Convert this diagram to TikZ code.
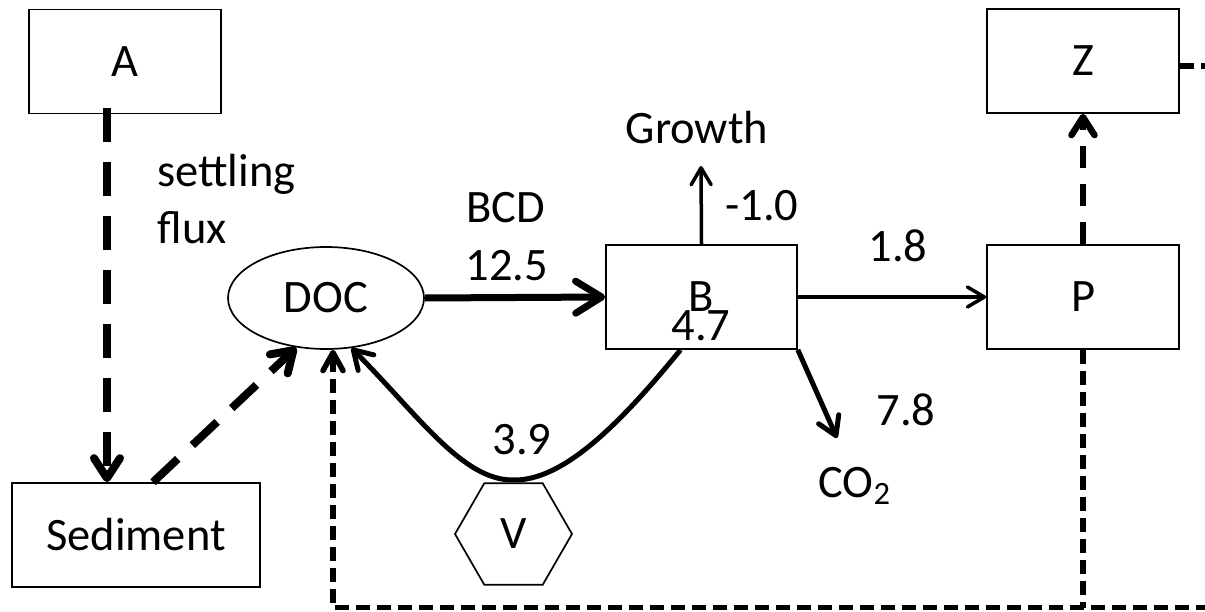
\documentclass[tikz,border=0pt]{standalone}
\usepackage{fontspec}
\setmainfont{Carlito}
\usetikzlibrary{arrows.meta,shapes.geometric}
\newcommand\dfont{\fontsize{23.25}{28}\selectfont}
\begin{document}
\begin{tikzpicture}[x=0.5pt,y=-0.5pt,
  box/.style={draw, line width=0.85pt, minimum width=96pt, minimum height=52pt, inner sep=0pt, font=\dfont},
  lab/.style={font=\dfont, inner sep=0pt},
  thickdash/.style={line width=4pt, dash pattern=on 17pt off 10pt, -{Straight Barb[round, length=10pt, width=13pt]}},
  middash/.style={line width=3.25pt, dash pattern=on 11pt off 8pt, -{Straight Barb[round, length=9pt, width=11.5pt]}},
  loopdash/.style={line width=2.75pt, dash pattern=on 7pt off 3.5pt},
  bcdarrow/.style={line width=3.5pt, -{Straight Barb[round, length=13pt, width=16pt]}},
  thinarrow/.style={line width=1.75pt, -{Straight Barb[round, length=8.5pt, width=10pt]}},
  medarrow/.style={line width=2.5pt, -{Straight Barb[round, length=9pt, width=11pt]}}
]
\useasboundingbox (0,0) rectangle (1205,611);

% boxes
\node[box] (A) at (125,61.5) {A};
\node[box] (Z) at (1083,61) {Z};
\node[box, minimum width=95.5pt] (B) at (701.5,297) {B};
\node[box] (P) at (1083,297) {P};
\node[box, minimum width=124pt] (Sed) at (136,535) {Sediment};
\node[draw, ellipse, line width=0.85pt, minimum width=98pt, minimum height=51pt, inner sep=0pt, font=\dfont] (DOC) at (326,298) {DOC};
\node[draw, regular polygon, regular polygon sides=6, minimum size=58.5pt, inner sep=0pt, line width=0.85pt, font=\dfont] (V) at (513.5,534) {V};

% labels
\node[lab, anchor=base west] (settling) at (157,186) {settling};
\node[lab, anchor=base west] (flux) at (157,243) {flux};
\node[lab, anchor=base] (bcd) at (506,222) {BCD};
\node[lab, anchor=base] (v125) at (507,280) {12.5};
\node[lab, anchor=base] (growth) at (697,143) {Growth};
\node[lab, anchor=base] (vm10) at (762,220) {-1.0};
\node[lab, anchor=base] (v47) at (701,340) {4.7};
\node[lab, anchor=base] (v18) at (898,261) {1.8};
\node[lab, anchor=base] (v78) at (906,425) {7.8};
\node[lab, anchor=base west] (co2) at (818,497) {CO\textsubscript{2}};
\node[lab, anchor=base] (v39) at (522,454) {3.9};

% free ends
\coordinate (gr) at (701,166);
\coordinate (cotip) at (837,438);
\coordinate (bl) at (333,607.5);
\coordinate (br) at (1210,607.5);
\coordinate (zr) at (1210,66);

% connectors
\draw[thickdash] ([xshift=-9pt,yshift=3pt]A.south) -- ([xshift=-9pt]A.south |- Sed.north);
\draw[thickdash] ([xshift=8.5pt]Sed.north) -- (DOC.239);
\draw[bcdarrow] (DOC.east) -- (B.west);
\draw[thinarrow] (B.north) -- (gr);
\draw[thinarrow] (B.east) -- (P.west);
\draw[medarrow] (B.south east) -- (cotip);
\draw[medarrow] ([xshift=-10.5pt]B.south) .. controls (620,424) and (563,481) .. ([yshift=1.25pt]V.north)
  .. controls (463,481) and (418,415) .. (DOC.297);
\draw[middash] (P.north) -- (Z.south);
\draw[loopdash] (P.south) -- (P.south |- bl);
\draw[loopdash] (Z.east |- zr) -- (zr);
\draw[loopdash, -{Straight Barb[round, length=9pt, width=10pt]}] (br) -- (bl) -- (bl |- DOC.south);
\end{tikzpicture}
\end{document}
